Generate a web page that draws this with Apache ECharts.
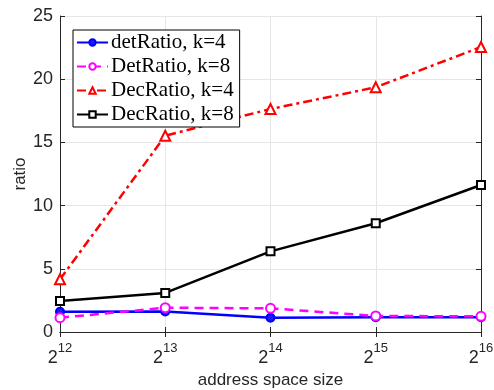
<!DOCTYPE html>
<html><head><meta charset="utf-8">
<script src="https://cdn.jsdelivr.net/npm/echarts@6/dist/echarts.min.js"></script>
<style>html,body{margin:0;padding:0;background:#fff}#c{width:494px;height:390px}</style>
</head><body><div id="c"></div>
<script>
const xExp = [12, 13, 14, 15, 16];
const detRatioK4 = [1.6, 1.62, 1.13, 1.16, 1.16];
const detRatioK8 = [1.13, 1.92, 1.87, 1.27, 1.24];
const decRatioK4 = [4.17, 15.53, 17.64, 19.36, 22.55];
const decRatioK8 = [2.45, 3.09, 6.38, 8.6, 11.63];
const seriesNames = ['detRatio, k=4', 'DetRatio, k=8', 'DecRatio, k=4', 'DecRatio, k=8'];

const pts = arr => xExp.map((x, i) => [x, arr[i]]);
const chart = echarts.init(document.getElementById('c'));
const axisFont = {fontFamily: 'Liberation Sans, Arial, sans-serif', color: '#262626'};
chart.setOption({
  animation: false,
  grid: {left: 60, right: 13, top: 16, bottom: 58, outerBoundsMode: 'none', containLabel: false},
  legend: {
    orient: 'vertical', left: 73, top: 30, padding: [2, 6, 2, 3],
    borderColor: '#000', borderWidth: 1, backgroundColor: '#fff', borderRadius: 0,
    itemWidth: 31, itemHeight: 8, itemGap: 3,
    textStyle: {fontFamily: 'Liberation Serif, Times New Roman, serif', fontSize: 21, color: '#000', padding: [0, 0, 0, -2]},
    data: seriesNames
  },
  xAxis: [{
    type: 'value', min: 12, max: 16, interval: 1,
    name: 'address space size', nameLocation: 'middle', nameGap: 38,
    nameTextStyle: Object.assign({fontSize: 17}, axisFont),
    axisLine: {lineStyle: {color: '#262626'}},
    axisTick: {inside: true, length: 5, lineStyle: {color: '#262626'}},
    splitLine: {show: true, lineStyle: {color: '#e6e6e6'}},
    axisLabel: Object.assign({
      margin: 10,
      formatter: v => '{b|2}{s|' + v + '}',
      rich: {
        b: Object.assign({fontSize: 18, verticalAlign: 'bottom', padding: [7, 0, 0, 0]}, axisFont),
        s: Object.assign({fontSize: 13, verticalAlign: 'top', padding: [0, 0, 7, 0]}, axisFont)
      }
    }, axisFont)
  }, {
    type: 'value', position: 'top', min: 12, max: 16, interval: 1,
    axisLine: {lineStyle: {color: '#262626'}},
    axisTick: {inside: true, length: 5, lineStyle: {color: '#262626'}},
    axisLabel: {show: false}, splitLine: {show: false}
  }],
  yAxis: [{
    type: 'value', min: 0, max: 25, interval: 5,
    name: 'ratio', nameLocation: 'middle', nameGap: 31, nameMoveOverlap: false,
    nameTextStyle: Object.assign({fontSize: 17}, axisFont),
    axisLine: {show: true, lineStyle: {color: '#262626'}},
    axisTick: {show: true, inside: true, length: 5, lineStyle: {color: '#262626'}},
    splitLine: {show: true, lineStyle: {color: '#e6e6e6'}},
    axisLabel: Object.assign({fontSize: 18, margin: 7}, axisFont)
  }, {
    type: 'value', position: 'right', min: 0, max: 25, interval: 5,
    axisLine: {show: true, lineStyle: {color: '#262626'}},
    axisTick: {show: true, inside: true, length: 5, lineStyle: {color: '#262626'}},
    axisLabel: {show: false}, splitLine: {show: false}
  }],
  series: [
    {name: seriesNames[0], type: 'line', data: pts(detRatioK4), symbol: 'circle', symbolSize: 8,
     itemStyle: {color: '#1a1aff', borderColor: '#0000ff', borderWidth: 2},
     lineStyle: {color: '#0000ff', width: 2.5}, z: 4},
    {name: seriesNames[1], type: 'line', data: pts(detRatioK8), symbol: 'emptyCircle', symbolSize: 9,
     itemStyle: {color: '#ff00ff', borderWidth: 2},
     lineStyle: {color: '#ff00ff', width: 2.5, type: [9, 6]}, z: 5},
    {name: seriesNames[2], type: 'line', data: pts(decRatioK4), symbol: 'emptyTriangle', symbolSize: 10,
     itemStyle: {color: '#ff0000', borderWidth: 2},
     lineStyle: {color: '#ff0000', width: 2.5, type: [9, 4, 3, 4]}, z: 3},
    {name: seriesNames[3], type: 'line', data: pts(decRatioK8), symbol: 'emptyRect', symbolSize: 8,
     itemStyle: {color: '#000000', borderWidth: 2},
     lineStyle: {color: '#000000', width: 2.5}, z: 3}
  ]
});
</script></body></html>
